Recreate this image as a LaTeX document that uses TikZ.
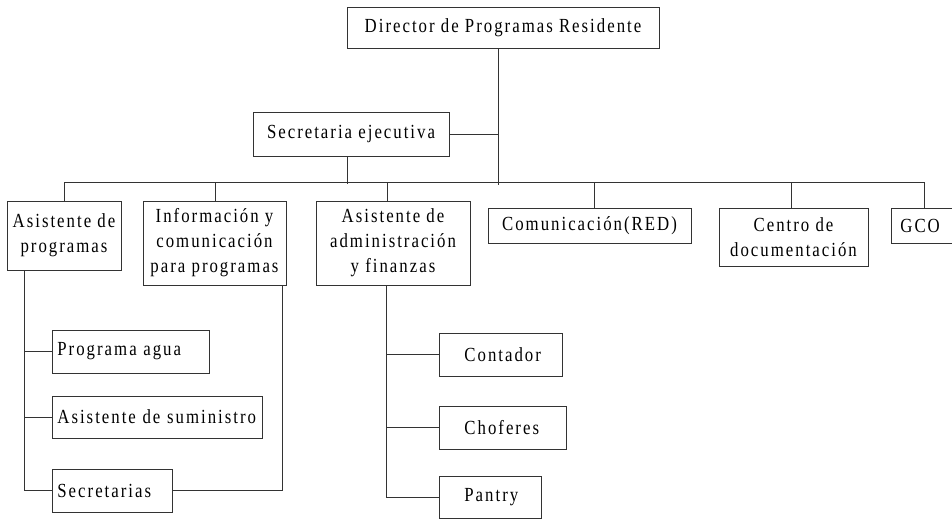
\documentclass[tikz,border=0pt]{standalone}
\usepackage{fontspec}
\setmainfont{Liberation Serif}[FakeStretch=0.84,LetterSpace=10]

\begin{document}
\begin{tikzpicture}[x=1pt,y=-1pt,font=\fontsize{20}{25}\selectfont,line width=0.8pt,draw=black!80]
  \tikzstyle{every node}=[draw=black!80,inner sep=0pt,align=center]
  \tikzstyle{leftbox}=[anchor=west,align=left,inner xsep=5pt,minimum height=43]
  \tikzstyle{padbox}=[leftbox,inner xsep=25pt]
  \useasboundingbox (0,0) rectangle (952,519);
  \clip (0,0) rectangle (952,519);

  % top
  \node (dir) at (503,27.5) [minimum width=312,minimum height=41] {Director de Programas Residente};
  \node (sec) at (351,134) [minimum width=196,minimum height=44] {Secretaria ejecutiva};

  % second row
  \node (asp) at (64,235.5) [minimum width=114,minimum height=69] {Asistente de\\programas};
  \node (inf) at (214.5,243) [minimum width=143,minimum height=84] {Información y\\comunicación\\para programas};
  \node (adm) at (393,243) [minimum width=154,minimum height=84] {Asistente de\\administración\\y finanzas};
  \node (com) at (589.5,225.5) [minimum width=203,minimum height=35] {Comunicación(RED)};
  \node (cen) at (793.5,237) [minimum width=149,minimum height=58] {Centro de\\documentación};
  \node (gco) at (891,225.5) [anchor=west,align=left,inner xsep=9pt,text width=60,minimum height=35] {GCO};

  % under Asistente de programas
  \node (pag) at (52,351.5) [leftbox,text width=147] {Programa agua};
  \node (sum) at (52,417) [leftbox,text width=200,minimum height=42] {Asistente de suministro};
  \node (scr) at (52,490.5) [leftbox,text width=110] {Secretarias};

  % under Asistente de administracion
  \node (cnt) at (439,354.5) [padbox,text width=73] {Contador};
  \node (cho) at (439,427.5) [padbox,text width=77] {Choferes};
  \node (pan) at (439,497) [padbox,text width=52,minimum height=42] {Pantry};

  % connectors
  \draw (dir.south -| 498,0) -- (498,185);
  \draw (sec.east) -- (sec.east -| 498,0);
  \draw (sec.south -| 347,0) -- (347,184);
  \coordinate (busL) at (64,182);
  \coordinate (busR) at (924,182);
  \draw (busL) -- (busR);
  \foreach \n/\x in {asp/64,inf/215,adm/387,com/594,cen/791,gco/924}
    \draw (\x,182) -- (\n.north -| \x,0);

  \draw (asp.south -| 24,0) -- (24,0 |- scr.west) -- (scr.west);
  \foreach \n in {pag,sum}
    \draw (\n.west) -- (\n.west -| 24,0);
  \draw (scr.east) -| (inf.south -| 282,0);

  \draw (adm.south -| 386,0) -- (386,0 |- pan.west) -- (pan.west);
  \foreach \n in {cnt,cho}
    \draw (\n.west) -- (\n.west -| 386,0);
\end{tikzpicture}
\end{document}
